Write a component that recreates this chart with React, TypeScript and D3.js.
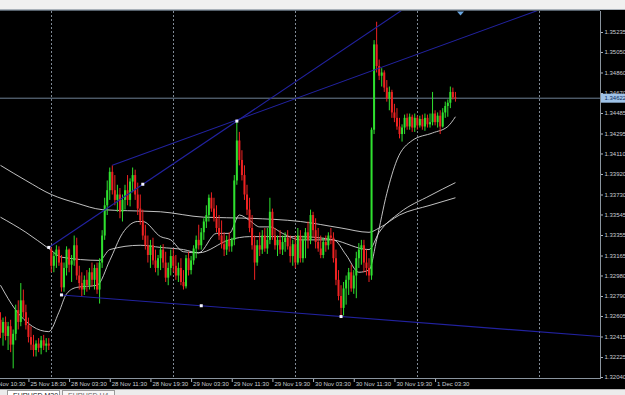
import React, { useEffect } from "react";
import * as d3 from "d3";

// ---- data (EURUSD M30, prices) ----
const openP = [
  1.3257, 1.3245, 1.3255, 1.3242, 1.3251, 1.3234, 1.3244, 1.3266, 1.3255, 1.3275,
  1.3264, 1.3252, 1.3241, 1.3234, 1.3229, 1.3235, 1.3231, 1.3238, 1.3233, 1.3235,
  1.3322, 1.3307, 1.3316, 1.3322, 1.3310, 1.3287, 1.3305, 1.3322, 1.3308, 1.3312,
  1.3326, 1.3298, 1.3291, 1.3285, 1.3294, 1.3289, 1.3301, 1.3294, 1.3305, 1.3285,
  1.3310, 1.3335, 1.3363, 1.3377, 1.3394, 1.3377, 1.3368, 1.3373, 1.3357, 1.3368,
  1.3377, 1.3368, 1.3385, 1.3391, 1.3373, 1.3360, 1.3349, 1.3335, 1.3326, 1.3317,
  1.3326, 1.3312, 1.3305, 1.3314, 1.3322, 1.3310, 1.3296, 1.3305, 1.3316, 1.3307,
  1.3298, 1.3305, 1.3292, 1.3288, 1.3314, 1.3303, 1.3312, 1.3323, 1.3331, 1.3326,
  1.3338, 1.3348, 1.3354, 1.3370, 1.3360, 1.3351, 1.3342, 1.3335, 1.3327, 1.3322,
  1.3331, 1.3325, 1.3331, 1.3386, 1.3423, 1.3405, 1.3391, 1.3373, 1.3359, 1.3342,
  1.3326, 1.3310, 1.3326, 1.3322, 1.3335, 1.3323, 1.3331, 1.3357, 1.3335, 1.3326,
  1.3331, 1.3322, 1.3329, 1.3333, 1.3325, 1.3316, 1.3327, 1.3310, 1.3335, 1.3314,
  1.3331, 1.3338, 1.3331, 1.3354, 1.3340, 1.3329, 1.3323, 1.3317, 1.3329, 1.3326,
  1.3335, 1.3333, 1.3314, 1.3294, 1.3279, 1.3268, 1.3286, 1.3294, 1.3301, 1.3286,
  1.3298, 1.3314, 1.3322, 1.3326, 1.3310, 1.3305, 1.3298, 1.3433, 1.3512, 1.3492,
  1.3483, 1.3486, 1.3472, 1.3462, 1.3468, 1.3449, 1.3444, 1.3436, 1.3429, 1.3435,
  1.3444, 1.3436, 1.3445, 1.3435, 1.3444, 1.3437, 1.3443, 1.3436, 1.3444, 1.3438,
  1.3440, 1.3448, 1.3440, 1.3446, 1.3436, 1.3449, 1.3455, 1.3458, 1.3468, 1.3463,
];
const highP = [
  1.3264, 1.3259, 1.3260, 1.3255, 1.3257, 1.3248, 1.3271, 1.3275, 1.3291, 1.3285,
  1.3271, 1.3259, 1.3251, 1.3243, 1.3238, 1.3240, 1.3242, 1.3243, 1.3240, 1.3240,
  1.3324, 1.3320, 1.3326, 1.3325, 1.3317, 1.3310, 1.3325, 1.3323, 1.3317, 1.3335,
  1.3333, 1.3307, 1.3301, 1.3298, 1.3303, 1.3305, 1.3310, 1.3308, 1.3310, 1.3314,
  1.3340, 1.3370, 1.3386, 1.3398, 1.3400, 1.3391, 1.3382, 1.3379, 1.3373, 1.3382,
  1.3391, 1.3388, 1.3398, 1.3396, 1.3384, 1.3373, 1.3359, 1.3345, 1.3335, 1.3331,
  1.3333, 1.3322, 1.3317, 1.3326, 1.3327, 1.3320, 1.3310, 1.3322, 1.3323, 1.3317,
  1.3310, 1.3314, 1.3303, 1.3317, 1.3320, 1.3316, 1.3326, 1.3335, 1.3345, 1.3342,
  1.3351, 1.3363, 1.3373, 1.3375, 1.3370, 1.3363, 1.3354, 1.3349, 1.3338, 1.3335,
  1.3338, 1.3333, 1.3391, 1.3441, 1.3431, 1.3414, 1.3400, 1.3382, 1.3370, 1.3354,
  1.3335, 1.3331, 1.3338, 1.3340, 1.3342, 1.3342, 1.3370, 1.3360, 1.3342, 1.3335,
  1.3340, 1.3335, 1.3338, 1.3340, 1.3335, 1.3331, 1.3335, 1.3342, 1.3340, 1.3335,
  1.3342, 1.3348, 1.3359, 1.3357, 1.3351, 1.3342, 1.3335, 1.3333, 1.3335, 1.3338,
  1.3342, 1.3338, 1.3322, 1.3303, 1.3289, 1.3292, 1.3298, 1.3305, 1.3308, 1.3303,
  1.3320, 1.3328, 1.3331, 1.3331, 1.3322, 1.3314, 1.3435, 1.3516, 1.3533, 1.3498,
  1.3490, 1.3488, 1.3479, 1.3473, 1.3470, 1.3457, 1.3453, 1.3444, 1.3438, 1.3447,
  1.3448, 1.3448, 1.3447, 1.3448, 1.3446, 1.3446, 1.3447, 1.3448, 1.3447, 1.3448,
  1.3468, 1.3451, 1.3449, 1.3451, 1.3453, 1.3459, 1.3461, 1.3473, 1.3472, 1.3468,
];
const lowP = [
  1.3240, 1.3233, 1.3238, 1.3229, 1.3227, 1.3212, 1.3238, 1.3248, 1.3251, 1.3259,
  1.3248, 1.3236, 1.3229, 1.3223, 1.3223, 1.3227, 1.3225, 1.3229, 1.3227, 1.3229,
  1.3301, 1.3301, 1.3305, 1.3307, 1.3283, 1.3283, 1.3298, 1.3301, 1.3292, 1.3307,
  1.3294, 1.3285, 1.3279, 1.3280, 1.3283, 1.3285, 1.3288, 1.3285, 1.3281, 1.3272,
  1.3305, 1.3331, 1.3354, 1.3368, 1.3373, 1.3363, 1.3357, 1.3351, 1.3348, 1.3359,
  1.3363, 1.3362, 1.3375, 1.3368, 1.3354, 1.3345, 1.3331, 1.3322, 1.3310, 1.3305,
  1.3308, 1.3301, 1.3298, 1.3303, 1.3305, 1.3292, 1.3289, 1.3298, 1.3301, 1.3294,
  1.3292, 1.3289, 1.3285, 1.3286, 1.3298, 1.3299, 1.3308, 1.3314, 1.3322, 1.3322,
  1.3331, 1.3342, 1.3348, 1.3357, 1.3348, 1.3338, 1.3331, 1.3323, 1.3316, 1.3317,
  1.3320, 1.3320, 1.3326, 1.3382, 1.3400, 1.3386, 1.3368, 1.3354, 1.3338, 1.3322,
  1.3294, 1.3307, 1.3316, 1.3318, 1.3320, 1.3318, 1.3327, 1.3331, 1.3322, 1.3316,
  1.3318, 1.3317, 1.3320, 1.3322, 1.3310, 1.3307, 1.3305, 1.3308, 1.3310, 1.3310,
  1.3314, 1.3323, 1.3327, 1.3333, 1.3323, 1.3320, 1.3314, 1.3314, 1.3320, 1.3322,
  1.3327, 1.3310, 1.3289, 1.3275, 1.3260, 1.3261, 1.3271, 1.3280, 1.3283, 1.3281,
  1.3277, 1.3305, 1.3308, 1.3301, 1.3298, 1.3292, 1.3294, 1.3429, 1.3486, 1.3479,
  1.3473, 1.3468, 1.3459, 1.3451, 1.3444, 1.3440, 1.3433, 1.3425, 1.3422, 1.3429,
  1.3433, 1.3433, 1.3431, 1.3431, 1.3433, 1.3435, 1.3433, 1.3432, 1.3435, 1.3435,
  1.3437, 1.3437, 1.3435, 1.3429, 1.3435, 1.3444, 1.3445, 1.3453, 1.3461, 1.3459,
];
const closeP = [
  1.3245, 1.3255, 1.3242, 1.3251, 1.3234, 1.3244, 1.3266, 1.3255, 1.3275, 1.3264,
  1.3252, 1.3241, 1.3234, 1.3229, 1.3235, 1.3231, 1.3238, 1.3233, 1.3235, 1.3233,
  1.3307, 1.3316, 1.3322, 1.3310, 1.3287, 1.3305, 1.3322, 1.3308, 1.3312, 1.3326,
  1.3298, 1.3291, 1.3285, 1.3294, 1.3289, 1.3301, 1.3294, 1.3305, 1.3285, 1.3310,
  1.3335, 1.3363, 1.3377, 1.3394, 1.3377, 1.3368, 1.3373, 1.3357, 1.3368, 1.3377,
  1.3368, 1.3385, 1.3391, 1.3373, 1.3360, 1.3349, 1.3335, 1.3326, 1.3317, 1.3326,
  1.3312, 1.3305, 1.3314, 1.3322, 1.3310, 1.3296, 1.3305, 1.3316, 1.3307, 1.3298,
  1.3305, 1.3292, 1.3288, 1.3314, 1.3303, 1.3312, 1.3323, 1.3331, 1.3326, 1.3338,
  1.3348, 1.3354, 1.3370, 1.3360, 1.3351, 1.3342, 1.3335, 1.3327, 1.3322, 1.3331,
  1.3325, 1.3331, 1.3386, 1.3423, 1.3405, 1.3391, 1.3373, 1.3359, 1.3342, 1.3326,
  1.3310, 1.3326, 1.3322, 1.3335, 1.3323, 1.3331, 1.3357, 1.3335, 1.3326, 1.3331,
  1.3322, 1.3329, 1.3333, 1.3325, 1.3316, 1.3327, 1.3310, 1.3335, 1.3314, 1.3331,
  1.3338, 1.3331, 1.3354, 1.3340, 1.3329, 1.3323, 1.3317, 1.3329, 1.3326, 1.3335,
  1.3333, 1.3314, 1.3294, 1.3279, 1.3268, 1.3286, 1.3294, 1.3301, 1.3286, 1.3298,
  1.3314, 1.3322, 1.3326, 1.3310, 1.3305, 1.3298, 1.3433, 1.3512, 1.3492, 1.3483,
  1.3486, 1.3472, 1.3462, 1.3468, 1.3449, 1.3444, 1.3436, 1.3429, 1.3435, 1.3444,
  1.3436, 1.3445, 1.3435, 1.3444, 1.3437, 1.3443, 1.3436, 1.3444, 1.3438, 1.3440,
  1.3448, 1.3440, 1.3446, 1.3436, 1.3449, 1.3455, 1.3458, 1.3468, 1.3463, 1.34622,
];

// moving averages, read at key bars
const maFastBars = [0, 6, 19, 23, 26, 30, 38, 43, 48, 54, 56, 63, 67, 72, 78, 85, 90, 94, 98, 102, 106, 111, 118, 131, 136, 141, 145, 148, 152, 156, 162, 170, 176, 179];
const maFastVals = [1.3289, 1.3266, 1.3246, 1.3264, 1.3281, 1.3287, 1.3289, 1.3312, 1.3337, 1.3348, 1.3348, 1.3334, 1.3331, 1.3320, 1.3319, 1.3337, 1.3337, 1.3354, 1.3349, 1.3343, 1.3343, 1.3337, 1.3331, 1.3331, 1.3317, 1.3301, 1.3303, 1.3331, 1.3374, 1.3405, 1.3423, 1.3430, 1.3436, 1.3445];
const maMidBars = [0, 10, 19, 24, 39, 43, 55, 63, 72, 78, 90, 98, 118, 131, 145, 149, 157, 169, 179];
const maMidVals = [1.3352, 1.3338, 1.3323, 1.3315, 1.3312, 1.3322, 1.3326, 1.3324, 1.3322, 1.3319, 1.3331, 1.3334, 1.3334, 1.3331, 1.3322, 1.3338, 1.3356, 1.3372, 1.3384];
const maSlowBars = [0, 10, 20, 30, 40, 50, 63, 80, 98, 118, 134, 145, 149, 157, 169, 179];
const maSlowVals = [1.3400, 1.3386, 1.3373, 1.3365, 1.3359, 1.3358, 1.3357, 1.3352, 1.3351, 1.3348, 1.3342, 1.3338, 1.3342, 1.3354, 1.3363, 1.3370];

// trend lines (anchor bars and prices)
const trendABars = [44, 93];
const trendAPrices = [1.34, 1.3442];
const trendBBars = [19, 93];
const trendBPrices = [1.3324, 1.3441];
const trendCBars = [24, 134];
const trendCPrices = [1.328, 1.326];

const bidPrice = 1.34622;

const priceTicks = [1.35235, 1.3505, 1.3486, 1.3467, 1.34485, 1.34295, 1.3411, 1.3392, 1.3373, 1.33545, 1.33355, 1.33165, 1.3298, 1.3279, 1.32605, 1.32415, 1.32225, 1.3204];
const timeLabels = ["25 Nov 10:30", "25 Nov 18:30", "28 Nov 03:30", "28 Nov 11:30", "28 Nov 19:30", "29 Nov 03:30", "29 Nov 11:30", "29 Nov 19:30", "30 Nov 03:30", "30 Nov 11:30", "30 Nov 19:30", "1 Dec 03:30"];
const timeLabelBars = [-5, 11, 27, 43, 59, 75, 91, 107, 123, 139, 155, 171];
const daySeparators = [20, 68, 116, 164, 212];
const tabLabels = ["EURUSD,M30", "EURUSD,H4"];

const W = 625;
const H = 395;
const RIGHT = 600;
const TOP = 11;
const BOTTOM = 378;
const SLOTS = 236;

export default function App() {
  useEffect(() => {
    document.body.style.margin = "0";
    document.body.style.background = "#000";
  }, []);

  const x = d3.scaleLinear().domain([0, SLOTS]).range([0.47, 600.3]);
  const y = d3.scaleLinear().domain([1.3204, 1.35235]).range([377, 32]);

  const bull = "#2fe02f";
  const bear = "#ee2222";
  const font = "'Liberation Sans', Arial, sans-serif";

  const lineGen = d3
    .line<[number, number]>()
    .x((d) => x(d[0]))
    .y((d) => y(d[1]))
    .curve(d3.curveMonotoneX);

  const maPath = (bars: number[], vals: number[]) =>
    lineGen(bars.map((b, i) => [b, vals[i]] as [number, number])) || "";

  const ray = (bars: number[], prices: number[]) => {
    const slope = (prices[1] - prices[0]) / (bars[1] - bars[0]);
    const endBar = SLOTS;
    const endPrice = prices[0] + slope * (endBar - bars[0]);
    return { x1: x(bars[0]), y1: y(prices[0]), x2: x(endBar), y2: y(endPrice) };
  };
  const rays = [
    ray(trendABars, trendAPrices),
    ray(trendBBars, trendBPrices),
    ray(trendCBars, trendCPrices),
  ];
  const dots: [number, number][] = [];
  [
    [trendBBars, trendBPrices],
    [trendCBars, trendCPrices],
  ].forEach(([b, p]) => {
    dots.push([x(b[0]), y(p[0])]);
    dots.push([x((b[0] + b[1]) / 2), y((p[0] + p[1]) / 2)]);
    dots.push([x(b[1]), y(p[1])]);
  });

  const yBid = y(bidPrice);
  const shiftX = x(closeP.length + 1);

  return (
    <svg
      width={W}
      height={H}
      style={{ position: "absolute", left: 0, top: 0, display: "block" }}
      xmlns="http://www.w3.org/2000/svg"
    >
      <defs>
        <clipPath id="plot">
          <rect x={0} y={TOP} width={RIGHT} height={BOTTOM - TOP} />
        </clipPath>
      </defs>
      <rect x={0} y={0} width={W} height={H} fill="#000" />
      {/* top strip */}
      <rect x={0} y={0} width={W} height={9} fill="#f0f0f0" />
      <line x1={0} x2={W} y1={9.5} y2={9.5} stroke="#a9b1b9" />
      <line x1={0} x2={RIGHT} y1={10.5} y2={10.5} stroke="#55606b" />

      {/* day separators */}
      {daySeparators.map((b) => (
        <line
          key={b}
          x1={Math.round(x(b)) + 0.5}
          x2={Math.round(x(b)) + 0.5}
          y1={TOP}
          y2={BOTTOM}
          stroke="#7f8994"
          strokeDasharray="2 2"
        />
      ))}

      <g clipPath="url(#plot)">
        {/* bid line */}
        <line x1={0} x2={RIGHT} y1={yBid} y2={yBid} stroke="#6f8296" />

        {/* moving averages */}
        <path d={maPath(maSlowBars, maSlowVals)} fill="none" stroke="#d6d6d6" strokeWidth={0.9} />
        <path d={maPath(maMidBars, maMidVals)} fill="none" stroke="#d6d6d6" strokeWidth={0.9} />
        <path d={maPath(maFastBars, maFastVals)} fill="none" stroke="#d6d6d6" strokeWidth={0.9} />

        {/* candles */}
        {closeP.map((c, i) => {
          const o = openP[i];
          const up = c >= o;
          const col = up ? bull : bear;
          const cx = x(i);
          const yt = y(Math.max(o, c));
          const yb = y(Math.min(o, c));
          return (
            <g key={i}>
              <line x1={cx} x2={cx} y1={y(highP[i])} y2={y(lowP[i])} stroke={col} strokeWidth={1} />
              <rect x={cx - 1} y={yt} width={2} height={Math.max(1, yb - yt)} fill={col} />
            </g>
          );
        })}

        {/* trend lines */}
        {rays.map((r, i) => (
          <line key={i} x1={r.x1} y1={r.y1} x2={r.x2} y2={r.y2} stroke="#2222a0" strokeWidth={1.1} />
        ))}
        {dots.map((d, i) => (
          <rect key={i} x={d[0] - 1.5} y={d[1] - 1.5} width={3} height={3} fill="#f4f4ff" />
        ))}
      </g>

      {/* shift marker */}
      <path
        d={`M${shiftX - 3.5},${TOP + 0.5} L${shiftX + 3.5},${TOP + 0.5} L${shiftX},${TOP + 4.5} Z`}
        fill="#6aa6e0"
      />

      {/* axes */}
      <line x1={RIGHT + 0.5} x2={RIGHT + 0.5} y1={TOP} y2={BOTTOM} stroke="#8a949e" />
      <line x1={0} x2={RIGHT + 1} y1={BOTTOM + 0.5} y2={BOTTOM + 0.5} stroke="#8a949e" />

      {priceTicks.map((p) => (
        <g key={p}>
          <line x1={RIGHT + 1} x2={RIGHT + 3} y1={y(p) + 0.5} y2={y(p) + 0.5} stroke="#aeb6be" />
          <text x={RIGHT + 4.5} y={y(p) + 2.2} fontSize={6} fontFamily={font} fill="#c9ced4">
            {p.toFixed(5)}
          </text>
        </g>
      ))}

      {/* bid label */}
      <rect x={RIGHT + 1} y={yBid - 4.5} width={W - RIGHT - 1} height={9} fill="#9fc3e8" />
      <text x={RIGHT + 4.5} y={yBid + 2.2} fontSize={6} fontFamily={font} fill="#0d2c5c">
        {bidPrice.toFixed(5)}
      </text>

      {timeLabels.map((t, i) => {
        const tx = x(timeLabelBars[i]);
        return (
          <g key={t}>
            <line x1={tx + 0.5} x2={tx + 0.5} y1={BOTTOM + 1} y2={BOTTOM + 4} stroke="#aeb6be" />
            <text x={tx + 2} y={385.5} fontSize={6} fontFamily={font} fill="#c9ced4">
              {t}
            </text>
          </g>
        );
      })}

      {/* bottom tabs strip */}
      <rect x={0} y={389} width={W} height={6} fill="#ececec" />
      <line x1={0} x2={W} y1={389.5} y2={389.5} stroke="#b8b8b8" />
      <rect x={7.5} y={390.5} width={52} height={8} fill="#ffffff" stroke="#9a9a9a" />
      <rect x={62.5} y={390.5} width={52} height={8} fill="#f6f6f6" stroke="#9a9a9a" />
      <text x={13} y={397.5} fontSize={7} fontFamily={font} fill="#222">{tabLabels[0]}</text>
      <text x={68} y={397.5} fontSize={7} fontFamily={font} fill="#666">{tabLabels[1]}</text>
    </svg>
  );
}
